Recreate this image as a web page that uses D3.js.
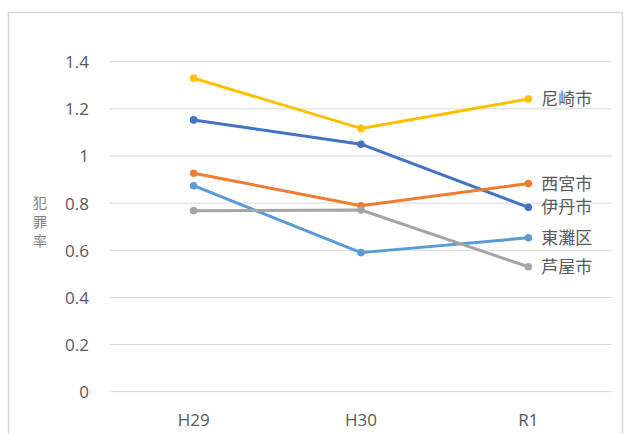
<!DOCTYPE html>
<html><head><meta charset="utf-8">
<script src="https://cdn.jsdelivr.net/npm/d3@7"></script>
<style>
html,body{margin:0;padding:0;background:#fff;}
svg{display:block;}
text{font-family:"Open Sans","Noto Sans CJK JP",sans-serif;fill:#595959;}
</style></head>
<body>
<svg id="c" width="627" height="434"></svg>
<script>
const categories = ["H29", "H30", "R1"];
const seriesNames = ["尼崎市", "伊丹市", "西宮市", "東灘区", "芦屋市"];
const amagasaki = [1.33, 1.117, 1.242];
const itami = [1.153, 1.050, 0.782];
const nishinomiya = [0.927, 0.789, 0.883];
const higashinada = [0.874, 0.590, 0.653];
const ashiya = [0.768, 0.771, 0.530];
const yTicks = [0, 0.2, 0.4, 0.6, 0.8, 1, 1.2, 1.4];
const colors = ["#FFC000", "#4472C4", "#ED7D31", "#5B9BD5", "#A5A5A5"];
const yTitle = "犯罪率";

const series = [amagasaki, itami, nishinomiya, higashinada, ashiya].map((v, i) => ({name: seriesNames[i], values: v, color: colors[i]}));

const svg = d3.select("#c");
// chart frame
svg.append("rect").attr("x", 8.5).attr("y", 12.5).attr("width", 614).attr("height", 440)
  .attr("fill", "#fff").attr("stroke", "#d9d9d9").attr("stroke-width", 1.5);

const x = d3.scaleBand().domain(categories).range([110, 612]);
const y = d3.scaleLinear().domain([0, 1.4]).range([391.7, 61.7]);

// gridlines
svg.append("g").selectAll("line").data(yTicks).join("line")
  .attr("x1", 110).attr("x2", 612)
  .attr("y1", d => y(d)).attr("y2", d => y(d))
  .attr("stroke", "#d9d9d9").attr("stroke-width", 1);

// y axis labels
const yAxis = d3.axisLeft(y).tickValues(yTicks).tickSize(0).tickPadding(0).tickFormat(d => String(d));
const gy = svg.append("g").attr("transform", "translate(89,0)").call(yAxis);
gy.select(".domain").remove();
gy.selectAll("text").attr("font-size", 17).style("fill", "#595959").attr("dy", "0.35em");

// x axis labels
const xAxis = d3.axisBottom(x).tickSize(0).tickPadding(0);
const gx = svg.append("g").attr("transform", "translate(0,420)").call(xAxis);
gx.select(".domain").remove();
gx.selectAll("text").attr("font-size", 17).style("fill", "#595959").attr("dy", "0.35em");

// y title (vertical stacked)
const yt = svg.append("text").attr("font-size", 14).attr("text-anchor", "middle").style("fill", "#7f7f7f");
Array.from(yTitle).forEach((ch, i) => {
  yt.append("tspan").attr("x", 40).attr("y", 203 + i * 19).attr("dy", "0.35em").text(ch);
});

const cx = d => x(d) + x.bandwidth() / 2;
const line = d3.line().x((d, i) => cx(categories[i])).y(d => y(d));

const g = svg.append("g");
series.forEach(s => {
  g.append("path").attr("d", line(s.values)).attr("fill", "none")
    .attr("stroke", s.color).attr("stroke-width", 3).attr("stroke-linejoin", "round").attr("stroke-linecap", "round");
  g.selectAll(null).data(s.values).join("circle")
    .attr("cx", (d, i) => cx(categories[i])).attr("cy", d => y(d)).attr("r", 3.8).attr("fill", s.color);
  g.append("text").attr("x", cx(categories[2]) + 13).attr("y", y(s.values[2]))
    .attr("dy", "0.35em").attr("font-size", 17).style("fill", "#595959").text(s.name);
});
</script>
</body></html>
